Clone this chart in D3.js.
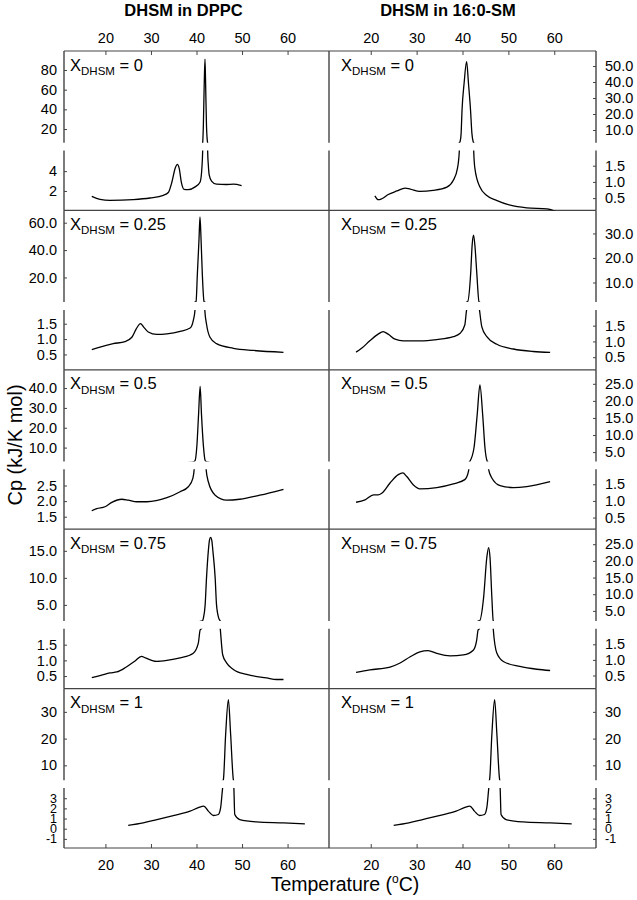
<!DOCTYPE html>
<html><head><meta charset="utf-8">
<script src="https://cdn.jsdelivr.net/npm/d3@7"></script>
<style>
body{margin:0;background:#fff}
text{font-family:"Liberation Sans",Arial,Helvetica,sans-serif;fill:#000}
</style>
</head><body>
<svg id="c" width="637" height="900"></svg>
<script>
// ---------- data ----------
const columnTitles = ["DHSM in DPPC", "DHSM in 16:0-SM"];
const fractions = ["0", "0.25", "0.5", "0.75", "1"];
const xTicks = [20, 30, 40, 50, 60];
const xDomain = [10.9, 69.1];
const yLabel = "Cp (kJ/K mol)";

// DHSM in DPPC
const dppc0T  = [17.0,18.8,21.0,26.1,29.8,32.7,33.8,34.6,35.3,35.8,36.2,36.7,37.25,38.2,39.7,40.8,41.2,41.35,41.5,41.7,41.87,42.0,42.2,42.45,42.6,42.8,43.3,44.4,46.6,48.1,49.9];
const dppc0Cp = [1.46,1.16,1.06,1.13,1.29,1.56,1.84,2.9,4.27,4.68,4.27,2.81,2.17,2.14,2.41,2.91,4.44,6.0,22.3,66.5,90.9,66.5,22.3,6.0,4.6,3.6,3.0,2.68,2.65,2.68,2.55];
const dppc25T  = [17.0,18.8,21.7,24.3,25.8,26.8,27.7,28.4,29.4,31.3,33.5,36.4,38.6,39.3,39.7,39.9,40.2,40.55,40.77,41.0,41.27,41.65,41.8,42.24,42.96,44.4,48.1,52.5,59.1];
const dppc25Cp = [0.66,0.74,0.85,0.92,1.06,1.34,1.5,1.39,1.23,1.15,1.17,1.25,1.36,1.61,1.99,2.5,23.2,47.8,64.2,47.8,23.2,2.5,1.99,1.45,1.06,0.85,0.7,0.63,0.57];
const dppc50T  = [17.0,18.1,19.9,21.4,23.6,25.0,26.9,29.1,33.5,36.4,38.2,39.2,39.5,39.7,40.1,40.45,40.8,41.1,41.5,41.9,42.1,42.6,44.1,46.6,49.5,53.9,59.1];
const dppc50Cp = [1.69,1.76,1.82,1.96,2.06,2.03,1.98,1.98,2.11,2.3,2.46,2.73,3.03,3.5,11.4,26.5,40.8,26.5,11.4,3.5,3.03,2.62,2.19,2.03,2.06,2.19,2.38];
const dppc75T  = [17.0,19.0,21.0,22.5,24.5,26.5,27.9,28.8,31.2,33.5,36.4,39.3,40.4,40.8,41.3,41.5,41.9,42.2,42.6,42.85,43.1,43.35,43.6,44.1,44.4,44.9,45.2,45.75,46.6,48.1,51.0,55.4,57.6,59.1];
const dppc75Cp = [0.45,0.52,0.6,0.63,0.78,0.98,1.13,1.08,0.97,1.0,1.08,1.23,1.55,1.97,2.04,2.5,5.0,10.0,15.0,17.0,17.5,17.0,15.0,10.0,5.0,2.5,2.04,1.18,0.92,0.71,0.55,0.44,0.39,0.39];
// DHSM in 16:0-SM
const sm0T  = [20.9,21.65,22.4,23.8,25.7,27.5,28.6,30.7,33.6,36.6,38.0,38.9,39.3,39.5,39.7,39.9,40.35,40.9,41.3,41.75,42.05,42.3,42.45,42.7,43.8,45.3,47.4,50.4,54.0,58.4,60.5];
const sm0Cp = [0.57,0.45,0.48,0.61,0.72,0.81,0.78,0.71,0.74,0.84,1.05,1.42,1.94,3.0,7.9,22.5,39.2,52.7,39.2,22.5,7.9,3.0,1.94,1.42,0.84,0.58,0.43,0.28,0.20,0.17,0.08];
const sm25T  = [16.8,18.0,19.8,21.6,22.7,23.8,25.3,27.1,30.7,34.4,38.0,39.5,40.5,40.9,41.1,41.8,42.1,42.4,42.7,43.1,43.6,43.7,44.2,45.3,47.5,51.1,55.4,59.1];
const sm25Cp = [0.66,0.78,1.02,1.23,1.31,1.23,1.07,1.02,1.02,1.06,1.15,1.26,1.52,2.0,2.1,14.3,25.2,29.3,25.2,14.3,2.1,2.0,1.47,1.15,0.91,0.76,0.68,0.65];
const sm50T  = [16.8,18.75,20.6,21.6,22.4,24.2,26.0,27.0,27.8,29.3,30.7,34.4,38.0,40.5,41.3,41.6,42.5,43.2,43.8,44.4,44.9,45.4,45.7,46.4,48.2,51.1,54.0,59.1];
const sm50Cp = [0.96,1.03,1.18,1.18,1.23,1.54,1.79,1.84,1.74,1.48,1.36,1.4,1.51,1.64,1.89,2.3,6.2,15.9,24.7,15.9,6.2,2.3,1.94,1.69,1.46,1.4,1.43,1.58];
const sm75T  = [16.8,19.8,24.2,26.4,28.6,30.7,32.5,34.4,37.3,40.2,42.4,43.1,43.4,43.7,44.6,45.3,45.7,46.0,46.4,46.7,47.5,48.9,52.5,56.2,59.1];
const sm75Cp = [0.6,0.68,0.77,0.9,1.1,1.26,1.3,1.21,1.13,1.16,1.32,1.64,1.96,2.0,9.0,21.0,24.0,21.0,9.0,2.0,1.21,0.95,0.79,0.7,0.66];
// pure DHSM (same sample shown in both columns)
const dhsmT  = [25.0,28.3,31.3,34.9,38.6,40.4,41.6,42.6,43.7,44.8,45.3,45.75,45.9,46.4,47.0,47.5,48.1,48.2,48.4,49.5,53.2,59.1,63.8];
const dhsmCp = [0.33,0.57,0.9,1.3,1.73,2.07,2.23,1.73,1.3,1.4,2.07,4.07,4.6,21.5,34.6,21.5,4.6,4.07,1.4,0.9,0.67,0.57,0.47];

// broken y-axis ranges per panel: [lower part], [upper part]
const lowerDomains = [[0.04,6.08],[0.12,1.97],[0,1.95],[0.1,2.0],[1.1,3.02],[0.15,1.95],[0.1,2.01],[0.08,2.0],[-1.9,4.0],[-1.9,4.0]];
const upperDomains = [[6.1,99.3],[2.06,59.4],[2,69],[2.0,39.4],[3.0,49.2],[2.25,29.1],[2.04,19.0],[2.0,29.5],[4.4,38.7],[4.4,38.7]];
const lowerTicks = [[2,4],[0.5,1,1.5],[0.5,1,1.5],[0.5,1,1.5],[1.5,2,2.5],[0.5,1,1.5],[0.5,1,1.5],[0.5,1,1.5],[-1,0,1,2,3],[-1,0,1,2,3]];
const upperTicks = [[20,40,60,80],[10,20,30,40,50],[20,40,60],[10,20,30],[10,20,30,40],[5,10,15,20,25],[5,10,15],[5,10,15,20,25],[10,20,30],[10,20,30]];
const tickFormats = ["d",".1f",".1f",".1f",".1f",".1f",".1f",".1f","d","d"];

const seriesT  = [dppc0T, sm0T, dppc25T, sm25T, dppc50T, sm50T, dppc75T, sm75T, dhsmT, dhsmT];
const seriesCp = [dppc0Cp, sm0Cp, dppc25Cp, sm25Cp, dppc50Cp, sm50Cp, dppc75Cp, sm75Cp, dhsmCp, dhsmCp];

// ---------- layout ----------
const svg = d3.select("#c");
const colX = [[64, 329], [329, 596]];
const rowTop = 51, rowH = 159.4, upH = 91.7, gapH = 7.8;
const axisColor = "#444";
const labelOffset = [6, 12];

const xScales = colX.map(r => d3.scaleLinear().domain(xDomain).range(r));

const gLines = svg.append("g");
const defs = svg.append("defs");

for (let i = 0; i < 10; i++) {
  const row = Math.floor(i / 2), col = i % 2;
  const x = xScales[col];
  const top = rowTop + row * rowH;
  const yU = d3.scaleLinear().domain(upperDomains[i]).range([top + upH, top]);
  const yL = d3.scaleLinear().domain(lowerDomains[i]).range([top + rowH, top + upH + gapH]);
  const data = seriesT[i].map((t, k) => [t, seriesCp[i][k]]);

  defs.append("clipPath").attr("id", "cu" + i).append("rect")
    .attr("x", colX[col][0]).attr("y", top).attr("width", colX[col][1] - colX[col][0]).attr("height", upH);
  defs.append("clipPath").attr("id", "cl" + i).append("rect")
    .attr("x", colX[col][0]).attr("y", top + upH + gapH).attr("width", colX[col][1] - colX[col][0]).attr("height", rowH - upH - gapH);

  const lu = d3.line().x(d => x(d[0])).y(d => yU(d[1])).curve(d3.curveMonotoneX);
  const ll = d3.line().x(d => x(d[0])).y(d => yL(d[1])).curve(d3.curveMonotoneX);
  svg.append("path").attr("d", lu(data)).attr("clip-path", `url(#cu${i})`)
    .attr("fill", "none").attr("stroke", "#000").attr("stroke-width", 1.3);
  svg.append("path").attr("d", ll(data)).attr("clip-path", `url(#cl${i})`)
    .attr("fill", "none").attr("stroke", "#000").attr("stroke-width", 1.3);

  const f = d3.format(tickFormats[i]);
  const fmt = v => f(v).replace("\u2212", "-");
  const mk = col === 0 ? d3.axisLeft : d3.axisRight;
  const ax = col === 0 ? colX[0][0] : colX[1][1];
  const pad = col === 0 ? 7 : 9;
  [[yU, upperTicks[i], 14.5], [yL, lowerTicks[i], row === 4 ? 12.5 : 14.5]].forEach(([sc, tv, fs]) => {
    const g = svg.append("g").attr("transform", `translate(${ax},0)`)
      .call(mk(sc).tickValues(tv).tickFormat(fmt).tickSize(-3).tickSizeOuter(0).tickPadding(pad));
    g.select(".domain").remove();
    g.selectAll("line").attr("stroke", axisColor);
    g.selectAll("text").attr("font-size", fs).attr("font-family", '"Liberation Sans",Arial,sans-serif').attr("fill", "#000");
  });

  const lab = svg.append("text").attr("x", colX[col][0] + labelOffset[col]).attr("y", top + 19.5)
    .attr("font-size", 16.5).style("white-space", "pre");
  lab.append("tspan").text("X");
  lab.append("tspan").attr("font-size", 11.5).attr("dy", 4.5).text("DHSM");
  lab.append("tspan").attr("dy", -4.5).text(" = " + fractions[row]);
}

// frame lines
const frameX = [colX[0][0], colX[0][1], colX[1][1]];
for (let r = 0; r < 5; r++) {
  const top = rowTop + r * rowH;
  gLines.append("line").attr("x1", colX[0][0]).attr("x2", colX[1][1]).attr("y1", top).attr("y2", top)
    .attr("stroke", axisColor).attr("stroke-width", 1.2);
  frameX.forEach(fx => {
    gLines.append("line").attr("x1", fx).attr("x2", fx).attr("y1", top).attr("y2", top + upH)
      .attr("stroke", axisColor).attr("stroke-width", 1.4);
    gLines.append("line").attr("x1", fx).attr("x2", fx).attr("y1", top + upH + gapH).attr("y2", top + rowH)
      .attr("stroke", axisColor).attr("stroke-width", 1.4);
  });
}
const bottomY = rowTop + 5 * rowH;
gLines.append("line").attr("x1", colX[0][0]).attr("x2", colX[1][1]).attr("y1", bottomY).attr("y2", bottomY)
  .attr("stroke", axisColor).attr("stroke-width", 1.2);

xScales.forEach((x, c) => {
  const gt = svg.append("g").attr("transform", `translate(0,${rowTop})`)
    .call(d3.axisTop(x).tickValues(xTicks).tickSize(-4).tickSizeOuter(0).tickPadding(8));
  const gb = svg.append("g").attr("transform", `translate(0,${bottomY})`)
    .call(d3.axisBottom(x).tickValues(xTicks).tickSize(-4).tickSizeOuter(0).tickPadding(12));
  [gt, gb].forEach(g => {
    g.select(".domain").remove();
    g.selectAll("line").attr("stroke", axisColor);
    g.selectAll("text").attr("font-size", 14.5).attr("font-family", '"Liberation Sans",Arial,sans-serif').attr("fill", "#000");
  });
  svg.append("text").attr("x", [183.5, 448][c]).attr("y", 16).attr("text-anchor", "middle")
    .attr("font-size", 16.5).attr("font-weight", "bold").text(columnTitles[c]);
});

svg.append("text").attr("transform", "translate(21.5,445) rotate(-90)").attr("text-anchor", "middle")
  .attr("font-size", 20).text(yLabel);
const xt = svg.append("text").attr("x", 345).attr("y", 891).attr("text-anchor", "middle").attr("font-size", 19.5);
xt.append("tspan").text("Temperature (");
xt.append("tspan").attr("font-size", 12).attr("dy", -8).text("o");
xt.append("tspan").attr("dy", 8).text("C)");
</script>
</body></html>
